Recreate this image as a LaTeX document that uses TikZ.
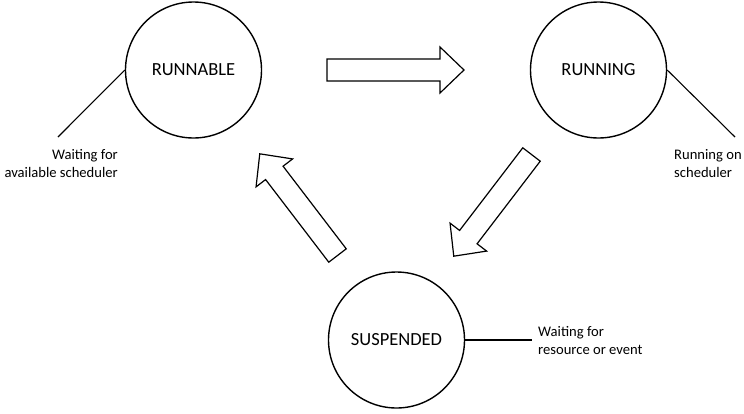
\documentclass[tikz,border=0pt]{standalone}
\usepackage{fontspec}
\setmainfont{Carlito}
\begin{document}
\begin{tikzpicture}[x=1pt,y=-1pt,
  state/.style={draw,circle,line width=1.4pt,minimum size=136pt,inner sep=0pt,font=\fontsize{18.5}{22}\selectfont},
  callout/.style={line width=1.1pt},
  note/.style={inner sep=0pt,font=\fontsize{14.6}{18}\selectfont},
  arrowline/.style={draw,line width=1.2pt,line join=miter,fill=white},
  blockarrow/.pic={\path[arrowline] (0,-11) -- (#1-24,-11) -- (#1-24,-23) -- (#1,0) -- (#1-24,23) -- (#1-24,11) -- (0,11) -- cycle;}]
\useasboundingbox (0,0) rectangle (744,413);
\node[state] (runnable) at (193.5,70) {RUNNABLE};
\node[state] (running) at (598.5,70) {RUNNING};
\node[state] (suspended) at (396.5,340) {SUSPENDED};
\coordinate (c1) at (58,137);
\coordinate (c2) at (735,137);
\coordinate (c3) at (532,340);
\draw[callout] (runnable.west) -- (c1);
\draw[callout] (running.east) -- (c2);
\draw[callout] (suspended.east) -- (c3);
\node[note,align=right,anchor=east] (n1) at (118,164) {Waiting for\\available scheduler};
\node[note,align=left,anchor=west] (n2) at (674,164) {Running on\\scheduler};
\node[note,align=left,anchor=west] (n3) at (538,340) {Waiting for\\resource or event};
\pic at (327,70) {blockarrow=137};
\pic[rotate=232.6] at (531.5,154.5) {blockarrow=128};
\pic[rotate=127.4] at (337.5,255.5) {blockarrow=128};
\end{tikzpicture}
\end{document}
